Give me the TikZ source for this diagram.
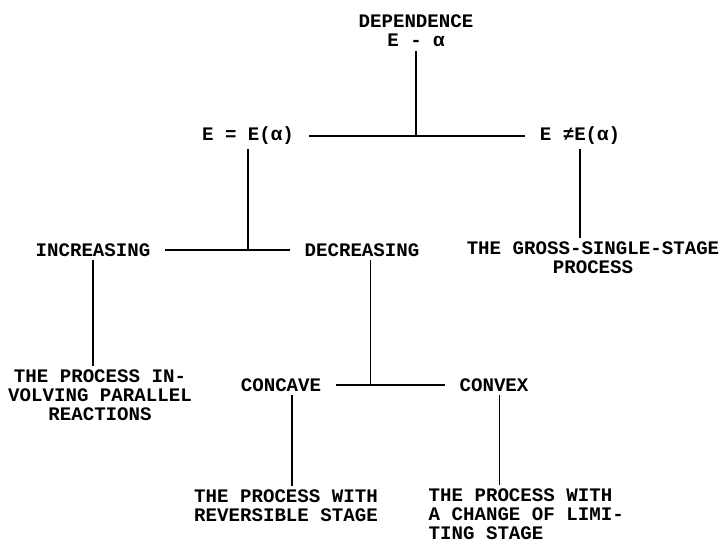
\documentclass[tikz,border=0pt]{standalone}
\usepackage{fontspec}
\newfontfamily\typer{Liberation Mono}
\usetikzlibrary{positioning,calc}

\begin{document}
\begin{tikzpicture}[x=0.025cm,y=-0.025cm,line width=1.2pt,
		txt/.style={font=\typer\bfseries\fontsize{13.6}{13.5}\selectfont,inner sep=2pt,align=center},
		hline/.style={shorten <=8pt,shorten >=8pt}]
	\useasboundingbox (0,0) rectangle (727,545);
	
	% top
	\node[txt] (dep) at (416,31) {DEPENDENCE\\E - α};
	\node[txt] (eq)  at (248,136) {E = E(α)};
	\node[txt] (neq) at (580,136) {E ≠E(α)};
	
	% second level
	\node[txt] (inc)   at (93,250)  {INCREASING};
	\node[txt] (dec)   at (362,250) {DECREASING};
	\node[txt] (gross) at (593,258) {THE GROSS-SINGLE-STAGE\\PROCESS};
	
	% third level
	\node[txt] (par) at (100,395) {THE PROCESS IN-\\VOLVING PARALLEL\\REACTIONS};
	\node[txt] (cc)  at (281,385) {CONCAVE};
	\node[txt] (cx)  at (494,385) {CONVEX};
	
	% bottom
	\node[txt] (rev) at (286,506) {THE PROCESS WITH\\REVERSIBLE STAGE};
	\node[txt,align=left,anchor=west] (chg) at (425,514) {THE PROCESS WITH\\A CHANGE OF LIMI-\\TING STAGE};
	
	% branches
	\draw (dep.south) -- (dep.south |- eq.east);
	\draw[hline] (eq.east) -- (neq.west);
	\draw (eq.south) -- (eq.south |- inc.east);
	\draw[hline] (inc.east) -- (dec.west);
	\draw (neq.south) -- (neq.south |- gross.north);
	\draw (inc.south) -- (inc.south |- par.north);
	\draw ([xshift=6pt]dec.south) -- ([xshift=6pt]dec.south |- cc.east);
	\draw[hline] (cc.east) -- (cx.west);
	\draw ([xshift=8pt]cc.south) -- ([xshift=8pt]cc.south |- rev.north);
	\draw ([xshift=4pt]cx.south) -- ([xshift=4pt]cx.south |- chg.north);
\end{tikzpicture}
\end{document}
